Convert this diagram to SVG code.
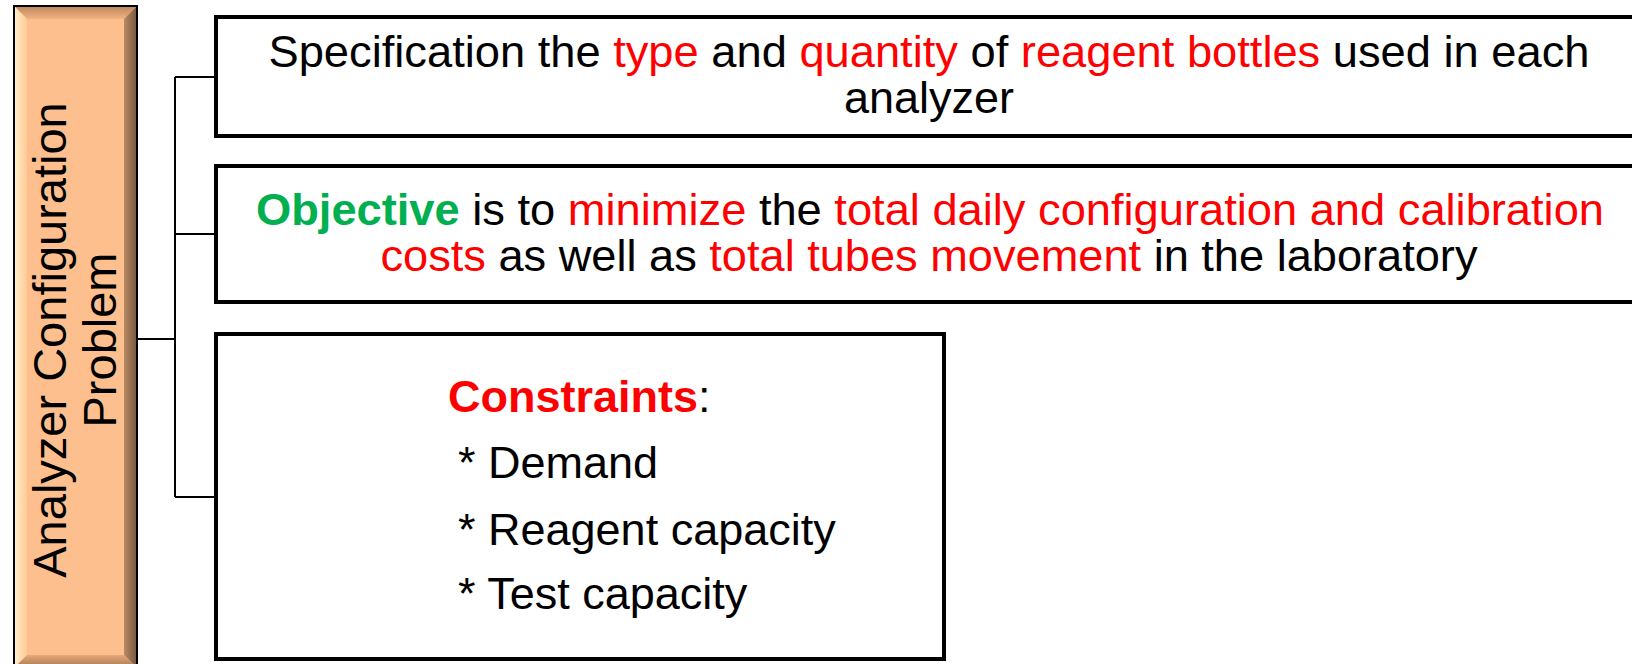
<svg xmlns="http://www.w3.org/2000/svg" width="1632" height="664" viewBox="0 0 1632 664">
<defs>
<linearGradient id="lb" x1="0" y1="0" x2="1" y2="0">
<stop offset="0" stop-color="#FFEFCC"/><stop offset="1" stop-color="#FFC996"/>
</linearGradient>
<linearGradient id="rb" x1="0" y1="0" x2="1" y2="0">
<stop offset="0" stop-color="#B98A63"/><stop offset="1" stop-color="#7A5A42"/>
</linearGradient>
<linearGradient id="tb" x1="0" y1="0" x2="0" y2="1">
<stop offset="0" stop-color="#C08A60"/><stop offset="1" stop-color="#F2B27F"/>
</linearGradient>
<linearGradient id="bb" x1="0" y1="0" x2="0" y2="1">
<stop offset="0" stop-color="#E6A878"/><stop offset="1" stop-color="#A97A55"/>
</linearGradient>
</defs>
<style>
.box{fill:#FFFFFF;stroke:#000000;stroke-width:4}
.con{fill:none;stroke:#000000;stroke-width:2}
.t{font-family:"Liberation Sans",Arial,sans-serif;font-size:45px;fill:#000000}
.r{fill:#FF0000}
.g{fill:#00B050;font-weight:bold}
.b{font-weight:bold}
</style>
<rect width="1632" height="664" fill="#FFFFFF"/>
<g id="connectors">
<polyline class="con" points="138,339 175,339"/>
<polyline class="con" points="175,77 175,497"/>
<polyline class="con" points="175,77 216,77"/>
<polyline class="con" points="175,234 216,234"/>
<polyline class="con" points="175,497 216,497"/>
</g>
<g id="problem">
<rect x="14" y="6" width="123" height="662" fill="#FDBF8D" stroke="#000000" stroke-width="2"/>
<polygon points="15,7 136,7 124,19 27,19" fill="url(#tb)"/>
<polygon points="15,7 27,19 27,655 15,667" fill="url(#lb)"/>
<polygon points="136,7 136,667 124,655 124,19" fill="url(#rb)"/>
<polygon points="15,667 27,655 124,655 136,667" fill="url(#bb)"/>
<text class="t" text-anchor="middle" transform="translate(66,340) rotate(-90)" style="font-size:47px">Analyzer Configuration</text>
<text class="t" text-anchor="middle" transform="translate(116,340) rotate(-90)" style="font-size:47px">Problem</text>
</g>
<g id="specification">
<rect class="box" x="216" y="17" width="1430" height="119"/>
<text class="t" x="929" y="67" text-anchor="middle" textLength="1321" lengthAdjust="spacingAndGlyphs">Specification the <tspan class="r">type</tspan> and <tspan class="r">quantity</tspan> of <tspan class="r">reagent bottles</tspan> used in each</text>
<text class="t" x="929" y="113" text-anchor="middle">analyzer</text>
</g>
<g id="objective">
<rect class="box" x="216" y="166" width="1430" height="136"/>
<text class="t" x="930" y="225" text-anchor="middle" textLength="1348" lengthAdjust="spacingAndGlyphs"><tspan class="g">Objective</tspan> is to <tspan class="r">minimize</tspan> the <tspan class="r">total daily configuration and calibration</tspan></text>
<text class="t" x="929" y="271" text-anchor="middle" textLength="1097" lengthAdjust="spacingAndGlyphs"><tspan class="r">costs</tspan> as well as <tspan class="r">total tubes movement</tspan> in the laboratory</text>
</g>
<g id="constraints">
<rect class="box" x="216" y="334" width="728" height="325"/>
<text class="t" x="448" y="412"><tspan class="r b">Constraints</tspan>:</text>
<text class="t" x="458" y="478">* Demand</text>
<text class="t" x="458" y="545">* Reagent capacity</text>
<text class="t" x="458" y="609">* Test capacity</text>
</g>
</svg>
